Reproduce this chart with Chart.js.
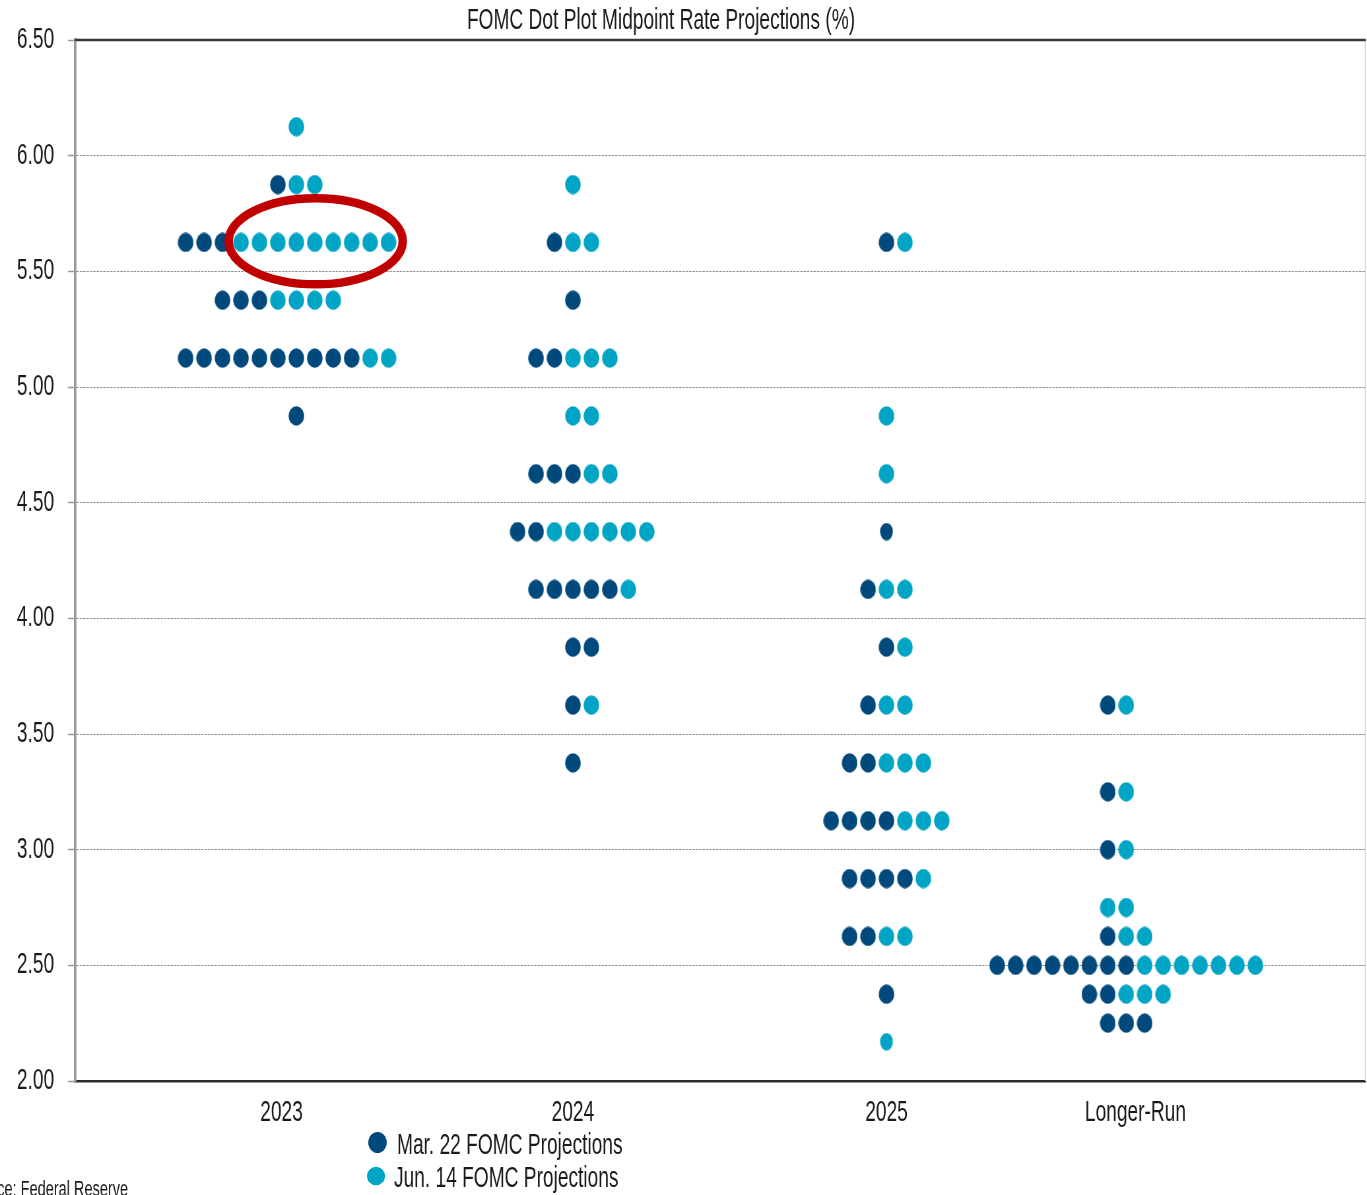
<!DOCTYPE html>
<html>
<head>
<meta charset="utf-8">
<script src="https://cdn.jsdelivr.net/npm/chart.js@4.4.1/dist/chart.umd.min.js"></script>
<style>
  html, body { margin: 0; padding: 0; background: #ffffff; overflow: hidden; }
  /* drawn wide, then squeezed horizontally for narrow type and oval dots */
  #frame { width: 2072px; height: 1195px; transform: scaleX(0.66); transform-origin: 0 0; }
</style>
</head>
<body>
<div id="frame"><canvas id="dots" width="2072" height="1195"></canvas></div>
<script>
// ---- data ---------------------------------------------------------------
const horizons = ['2023', '2024', '2025', 'Longer-Run'];

// midpoint of each participant's projected range (%), and how many dots sit at it
const rates2023 = [6.125, 5.875, 5.625, 5.375, 5.125, 4.875];
const mar2023   = [0, 1, 3, 3, 10, 1];
const jun2023   = [1, 2, 9, 4, 2, 0];

const rates2024 = [5.875, 5.625, 5.375, 5.125, 4.875, 4.625, 4.375, 4.125, 3.875, 3.625, 3.375];
const mar2024   = [0, 1, 1, 2, 0, 3, 2, 5, 2, 1, 1];
const jun2024   = [1, 2, 0, 3, 2, 2, 6, 1, 0, 1, 0];

const rates2025 = [5.625, 4.875, 4.625, 4.375, 4.125, 3.875, 3.625, 3.375, 3.125, 2.875, 2.625, 2.375, 2.17];
const mar2025   = [1, 0, 0, 1, 1, 1, 1, 2, 4, 4, 2, 1, 0];
const jun2025   = [1, 1, 1, 0, 2, 1, 2, 3, 3, 1, 2, 0, 1];

const ratesLR = [3.625, 3.25, 3.0, 2.75, 2.625, 2.5, 2.375, 2.25];
const marLR   = [1, 1, 1, 0, 1, 8, 2, 3];
const junLR   = [1, 1, 1, 2, 2, 7, 3, 0];

const seriesLabels = ['Mar. 22 FOMC Projections', 'Jun. 14 FOMC Projections'];
const yTickValues = [2.00, 2.50, 3.00, 3.50, 4.00, 4.50, 5.00, 5.50, 6.00, 6.50];

// ---- layout (dot slots along the horizontal axis) -------------------------
const start2023 = [6, 5, 0, 2, 0, 6];
const start2024 = [21, 20, 21, 19, 21, 19, 18, 19, 21, 21, 21];
const start2025 = [38, 38, 38, 38, 37, 38, 37, 36, 35, 36, 36, 38, 38];
const startLR   = [50, 50, 50, 50, 50, 44, 49, 50];
const horizonSlots = [5.2, 21, 38, 51.5];
const slotRange = [-6, 64];
// dots drawn a little smaller: [horizon index, rate]
const reducedDots = [[2, 4.375], [2, 2.17]];
// ring around the 2023 cluster at 5.625
const ring = { slot: 7.05, rate: 5.63, halfSlots: 4.72, halfRate: 0.186 };

const SQUEEZE = 0.66;           // horizontal squeeze applied to the whole canvas
const DARK = '#00497c';
const LIGHT = '#00a4c4';
const FONT = "'Liberation Sans', Arial, sans-serif";

// ---- oval dot sprites --------------------------------------------------------
function ovalSprite(color, screenW, h) {
  const w = Math.round(screenW / SQUEEZE);
  const c = document.createElement('canvas');
  c.width = w; c.height = h;
  const g = c.getContext('2d');
  g.fillStyle = color;
  g.beginPath();
  g.ellipse(w / 2, h / 2, w / 2 - 0.3, h / 2 - 0.3, 0, 0, Math.PI * 2);
  g.fill();
  return c;
}
const sprites = {
  dark: ovalSprite(DARK, 16, 20), darkSmall: ovalSprite(DARK, 13, 18),
  light: ovalSprite(LIGHT, 16, 20), lightSmall: ovalSprite(LIGHT, 13, 18)
};

// ---- build the point lists --------------------------------------------------
const horizonRows = [
  [rates2023, mar2023, jun2023, start2023],
  [rates2024, mar2024, jun2024, start2024],
  [rates2025, mar2025, jun2025, start2025],
  [ratesLR, marLR, junLR, startLR]
];
const marPoints = [], junPoints = [];
horizonRows.forEach(([rates, mar, jun, start], h) => {
  rates.forEach((r, i) => {
    const small = reducedDots.some(([hh, rr]) => hh === h && rr === r);
    for (let k = 0; k < mar[i]; k++) marPoints.push({ x: start[i] + k, y: r, small });
    for (let k = 0; k < jun[i]; k++) junPoints.push({ x: start[i] + mar[i] + k, y: r, small });
  });
});

// ---- decorations: frame lines, ring, title, legend, source ------------------
const decor = {
  id: 'decor',
  beforeDatasetsDraw(chart) {
    const { ctx, chartArea: a } = chart;
    ctx.save();
    ctx.strokeStyle = '#d6d6d6';
    ctx.lineWidth = 2;
    ctx.beginPath(); ctx.moveTo(a.right - 1, a.top); ctx.lineTo(a.right - 1, a.bottom); ctx.stroke();
    ctx.strokeStyle = '#3a3a3a';
    ctx.lineWidth = 2.5;
    ctx.beginPath(); ctx.moveTo(a.left, a.top); ctx.lineTo(a.right, a.top); ctx.stroke();
    ctx.restore();
  },
  afterDatasetsDraw(chart) {
    const { ctx, scales: { x, y } } = chart;
    const cx = x.getPixelForValue(ring.slot);
    const cy = y.getPixelForValue(ring.rate);
    const rx = x.getPixelForValue(ring.slot + ring.halfSlots) - cx;
    const ry = cy - y.getPixelForValue(ring.rate + ring.halfRate);
    ctx.save();
    ctx.translate(cx, cy);
    ctx.scale(1 / SQUEEZE, 1);    // keep the stroke even after the squeeze
    ctx.strokeStyle = '#c00000';
    ctx.lineWidth = 8.5;
    ctx.beginPath();
    ctx.ellipse(0, 0, rx * SQUEEZE, ry, 0, 0, Math.PI * 2);
    ctx.stroke();
    ctx.restore();
  },
  afterDraw(chart) {
    const { ctx } = chart;
    const sx = (v) => v / SQUEEZE;
    ctx.save();
    ctx.fillStyle = '#1a1a1a';
    ctx.textBaseline = 'middle';
    ctx.font = '29px ' + FONT;
    ctx.textAlign = 'center';
    ctx.fillText('FOMC Dot Plot Midpoint Rate Projections (%)', sx(661), 21);

    const rows = [1145.5, 1178.5];
    const textLeft = [sx(397), sx(394)];
    const markers = [[377.5, 1142.5, 9.2, 10.5], [376, 1176, 9, 9.3]];
    chart.data.datasets.forEach((ds, i) => {
      const [mx, my, mrx, mry] = markers[i];
      ctx.fillStyle = ds.backgroundColor;
      ctx.beginPath();
      ctx.ellipse(sx(mx), my, sx(mrx), mry, 0, 0, Math.PI * 2);
      ctx.fill();
      ctx.fillStyle = '#1a1a1a';
      ctx.textAlign = 'left';
      ctx.fillText(ds.label, textLeft[i], rows[i]);
    });

    ctx.font = '22px ' + FONT;
    ctx.textAlign = 'right';
    ctx.fillText('Source: Federal Reserve', sx(128), 1190);
    ctx.restore();
  }
};

Chart.defaults.font.family = FONT;

const dotStyle = (dark) => (c) => {
  const small = c.raw && c.raw.small;
  return dark ? (small ? sprites.darkSmall : sprites.dark) : (small ? sprites.lightSmall : sprites.light);
};

new Chart(document.getElementById('dots'), {
  type: 'scatter',
  data: {
    datasets: [
      { label: seriesLabels[0], data: marPoints, backgroundColor: DARK, borderWidth: 0,
        pointStyle: dotStyle(true), pointRadius: 10 },
      { label: seriesLabels[1], data: junPoints, backgroundColor: LIGHT, borderWidth: 0,
        pointStyle: dotStyle(false), pointRadius: 10 }
    ]
  },
  options: {
    responsive: false,
    animation: false,
    events: [],
    devicePixelRatio: 1,
    layout: { autoPadding: false, padding: { top: 40, left: 0, right: 2.3, bottom: 0 } },
    plugins: { legend: { display: false }, tooltip: { enabled: false }, title: { display: false } },
    scales: {
      x: {
        type: 'linear',
        min: slotRange[0],
        max: slotRange[1],
        grid: { display: false, drawTicks: false, tickLength: 0 },
        border: { display: true, color: '#2b2b2b', width: 2.5 },
        afterBuildTicks: (s) => { s.ticks = horizonSlots.map(v => ({ value: v })); },
        afterFit: (s) => { s.height = 114; s.paddingLeft = 0; s.paddingRight = 0; },
        ticks: {
          autoSkip: false,
          maxRotation: 0,
          padding: 15,
          color: '#1a1a1a',
          font: { size: 29 },
          callback: (v, i) => horizons[i]
        }
      },
      y: {
        min: yTickValues[0],
        max: yTickValues[yTickValues.length - 1],
        afterBuildTicks: (s) => { s.ticks = yTickValues.map(v => ({ value: v })); },
        afterFit: (s) => { s.width = 75 / SQUEEZE; s.paddingLeft = 0; s.paddingRight = 0; },
        grid: { color: '#8f8f8f', lineWidth: 1, tickLength: 7 / SQUEEZE, tickColor: '#9a9a9a', tickWidth: 1.5 },
        border: { display: true, color: '#9a9a9a', width: 2.5 / SQUEEZE, dash: [3.6, 1.5] },
        ticks: {
          padding: 21,
          color: '#1a1a1a',
          font: { size: 29 },
          callback: (v) => Number(v).toFixed(2)
        }
      }
    }
  },
  plugins: [decor]
});
</script>
</body>
</html>
